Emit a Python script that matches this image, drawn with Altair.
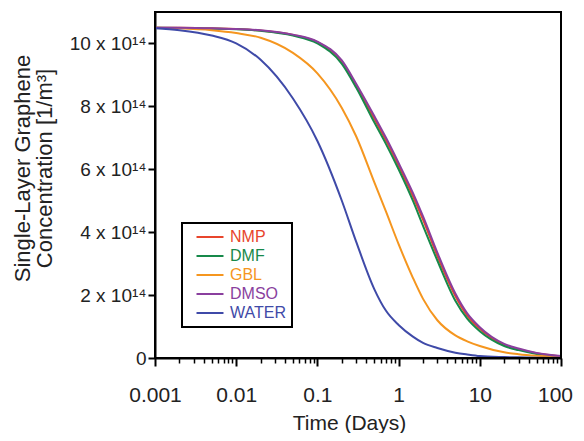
import altair as alt
import pandas as pd

days = [0.001, 0.002, 0.005, 0.01, 0.02, 0.05, 0.1, 0.2, 0.3, 0.5, 0.7,
        1, 1.5, 2, 3, 5, 7, 10, 20, 30, 50, 100]

# concentrations in units of 1e14 per m^3
nmp = [10.5, 10.5, 10.48, 10.46, 10.41, 10.27, 10.04, 9.42, 8.66, 7.62, 6.92,
       6.12, 5.15, 4.4, 3.25, 1.97, 1.35, 0.93, 0.42, 0.28, 0.15, 0.05]
dmf = [10.5, 10.49, 10.47, 10.45, 10.4, 10.25, 10.0, 9.35, 8.6, 7.5, 6.8,
       6.0, 5.0, 4.2, 3.1, 1.82, 1.25, 0.85, 0.38, 0.25, 0.13, 0.05]
gbl = [10.5, 10.48, 10.42, 10.33, 10.18, 9.7, 9.05, 7.95, 7.05, 5.6, 4.65,
       3.62, 2.55, 1.88, 1.2, 0.72, 0.53, 0.38, 0.18, 0.12, 0.07, 0.03]
dmso = [10.5, 10.5, 10.48, 10.46, 10.42, 10.28, 10.06, 9.46, 8.72, 7.7, 7.0,
        6.2, 5.25, 4.5, 3.35, 2.05, 1.42, 0.98, 0.45, 0.3, 0.16, 0.06]
water = [10.48, 10.42, 10.25, 10.0, 9.48, 8.25, 6.9, 5.0, 3.7, 2.2, 1.5,
         1.05, 0.68, 0.48, 0.32, 0.17, 0.11, 0.06, 0.03, 0.02, 0.01, 0.0]

solvents = ["NMP", "DMF", "GBL", "DMSO", "WATER"]
colors = ["#e8452c", "#17894a", "#f5961f", "#8a3f9e", "#3f4aa8"]
series = [nmp, dmf, gbl, dmso, water]

x_major = [0.001, 0.01, 0.1, 1, 10, 100]
x_minor = [m * 10.0 ** e for e in range(-3, 2) for m in range(2, 10)]
y_ticks = [0, 2, 4, 6, 8, 10]

rows = []
for name, vals in zip(solvents, series):
    for d, v in zip(days, vals):
        rows.append({"days": d, "conc": v, "solvent": name})
df = pd.DataFrame(rows)

FONT = "Liberation Sans"
W, H = 406, 346
xscale = alt.Scale(type="log", domain=[0.001, 100], nice=False)

lines = alt.Chart(df).mark_line(strokeWidth=2, interpolate="monotone").encode(
    x=alt.X("days:Q", scale=xscale,
            axis=alt.Axis(values=x_major, format="~g", title="Time (Days)",
                          orient="bottom", tickSize=8, tickWidth=2,
                          labelFontSize=21, labelPadding=18, labelFlush=False,
                          labelOffset={"expr": "datum.value == 100 ? -6 : 0"},
                          titleFontSize=21, titleY=71,
                          titleBaseline="alphabetic", titleX=194,
                          grid=False)),
    y=alt.Y("conc:Q", scale=alt.Scale(domain=[0, 11], nice=False),
            axis=alt.Axis(values=y_ticks, tickSize=7, tickWidth=2,
                          labelExpr="datum.value == 0 ? '0' : datum.value + ' x 10¹⁴'",
                          labelFontSize=19, labelPadding=2,
                          title=["Single-Layer Graphene", "Concentration [1/m³]"],
                          titleFontSize=22, titleLineHeight=22,
                          titleX=-121, titleY=156, titleBaseline="bottom",
                          grid=False)),
    color=alt.Color("solvent:N", sort=solvents,
                    scale=alt.Scale(domain=solvents, range=colors),
                    legend=alt.Legend(title=None, orient="none",
                                      legendX=27, legendY=211,
                                      symbolType="M-2,0H2", symbolSize=182,
                                      symbolStrokeWidth=2, symbolOffset=14,
                                      labelOffset=12, labelFontSize=16,
                                      labelFont=FONT,
                                      labelColor={"expr": "scale('color', datum.value)"},
                                      rowPadding=3, padding=6,
                                      strokeColor="black")),
)

minor = alt.Chart(pd.DataFrame({"days": x_minor})).mark_point(opacity=0).encode(
    x=alt.X("days:Q", scale=xscale,
            axis=alt.Axis(values=x_minor, labels=False, domain=False,
                          orient="bottom", tickSize=5, tickWidth=1.5,
                          title=None, grid=False)),
)

frame = alt.Chart(pd.DataFrame({"f": [0]})).mark_rect(
    fillOpacity=0, stroke="black", strokeWidth=2
).encode(
    x=alt.value(0), x2=alt.value(W), y=alt.value(0), y2=alt.value(H)
)

chart = alt.layer(lines, minor, frame).resolve_scale(x="shared").resolve_axis(
    x="independent"
).properties(
    width=W, height=H,
    autosize=alt.AutoSizeParams(type="none"),
    padding={"left": 147, "top": 4, "right": 15, "bottom": 75},
).configure_view(
    stroke="black", strokeWidth=2
).configure_axis(
    domainColor="black", domainWidth=2, tickColor="black",
    labelColor="#222222", titleColor="#222222",
    labelFont=FONT, titleFont=FONT, titleFontWeight="normal",
).configure_legend(
    strokeWidth=2
)

chart.save("out.html", embed_options={"renderer": "svg", "actions": False})
